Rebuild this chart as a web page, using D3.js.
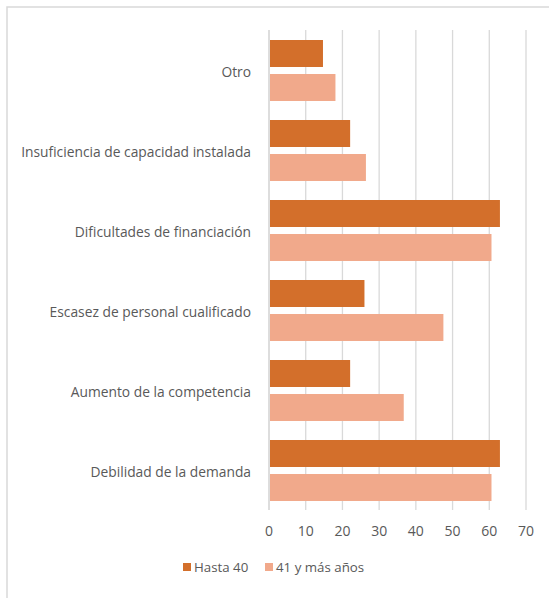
<!DOCTYPE html>
<meta charset="utf-8">
<title>Obstáculos</title>
<style>
  body { margin: 0; background: #fff; }
  text { font-family: "Open Sans", sans-serif; fill: #595959; }
</style>
<div id="viz"></div>
<script src="https://cdnjs.cloudflare.com/ajax/libs/d3/7.8.5/d3.min.js"></script>
<script>

var width = 549;
var height = 598;

// categories, top to bottom
var categories = [
  "Otro",
  "Insuficiencia de capacidad instalada",
  "Dificultades de financiación",
  "Escasez de personal cualificado",
  "Aumento de la competencia",
  "Debilidad de la demanda"
];
var seriesNames = ["Hasta 40", "41 y más años"];
var hasta40 = [14.7, 22.1, 62.9, 26.0, 22.1, 62.9];
var mas41 = [18.1, 26.4, 60.6, 47.5, 36.7, 60.6];
var xTicks = [0, 10, 20, 30, 40, 50, 60, 70];
var colors = ["#d36f2b", "#f1a98b"];

var rows = categories.map(function(c, i) {
  return { cat: c, vals: [hasta40[i], mas41[i]] };
});

var svg = d3.select("#viz").append("svg")
  .attr("width", width)
  .attr("height", height);

// chart frame (left + top edges visible)
svg.append("path")
  .attr("d", "M 7 598 L 7 7 L 549 7")
  .attr("fill", "none")
  .attr("stroke", "#d9d9d9")
  .attr("stroke-width", 1.5);

var x = d3.scaleLinear().domain([0, 70]).range([269, 526]);
var y = d3.scaleBand().domain(categories).range([30, 510]);
var ySub = d3.scaleBand().domain([0, 1]).range([10, 71]).paddingInner(0.206);

// gridlines
svg.append("g").selectAll("line")
  .data(xTicks)
  .join("line")
  .attr("x1", d => x(d)).attr("x2", d => x(d))
  .attr("y1", 30).attr("y2", 510)
  .attr("stroke", "#d9d9d9")
  .attr("stroke-width", 1.3);

// bars
var groups = svg.append("g").selectAll("g")
  .data(rows)
  .join("g")
  .attr("transform", d => "translate(0," + y(d.cat) + ")");

groups.selectAll("rect")
  .data(d => d.vals)
  .join("rect")
  .attr("x", x(0) + 1)
  .attr("y", (d, i) => ySub(i))
  .attr("width", d => x(d) - x(0) - 1)
  .attr("height", ySub.bandwidth())
  .attr("fill", (d, i) => colors[i]);

// vertical axis line
svg.append("line")
  .attr("x1", x(0)).attr("x2", x(0))
  .attr("y1", 30).attr("y2", 510)
  .attr("stroke", "#d9d9d9")
  .attr("stroke-width", 1.3);

// category labels
svg.append("g").selectAll("text")
  .data(categories)
  .join("text")
  .attr("x", 251)
  .attr("y", d => y(d) + y.bandwidth() / 2 + 2)
  .attr("dy", "0.35em")
  .attr("text-anchor", "end")
  .attr("font-size", 13.8)
  .text(d => d);

// x tick labels
svg.append("g").selectAll("text")
  .data(xTicks)
  .join("text")
  .attr("x", d => x(d))
  .attr("y", 531)
  .attr("dy", "0.35em")
  .attr("text-anchor", "middle")
  .attr("font-size", 14)
  .text(d => d);

// legend
var legend = svg.append("g");
var legX = [183, 265];
seriesNames.forEach(function(s, i) {
  legend.append("rect")
    .attr("x", legX[i]).attr("y", 563)
    .attr("width", 8).attr("height", 8)
    .attr("fill", colors[i]);
  legend.append("text")
    .attr("x", legX[i] + 11).attr("y", 567)
    .attr("dy", "0.35em")
    .attr("font-size", 13.3)
    .text(s);
});

</script>
